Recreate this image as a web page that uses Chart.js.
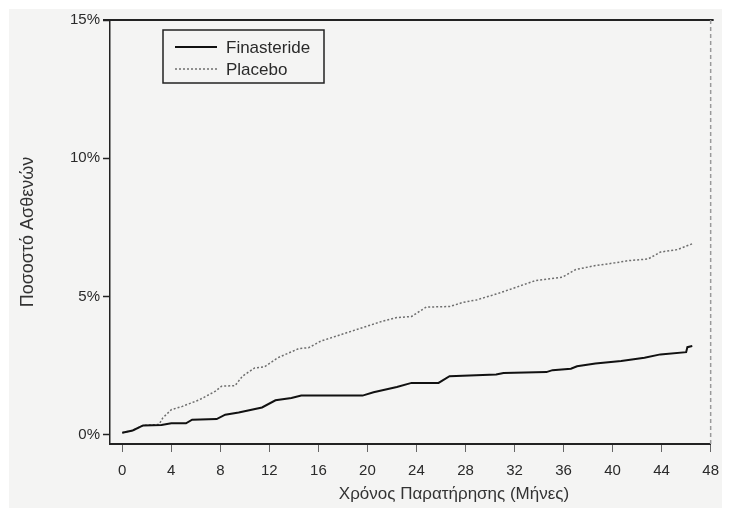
<!DOCTYPE html>
<html>
<head>
<meta charset="utf-8">
<script src="https://cdn.jsdelivr.net/npm/chart.js@4.4.1/dist/chart.umd.min.js"></script>
<style>
    html, body { margin: 0; padding: 0; background: #ffffff; }
    #paper { position: absolute; left: 9px; top: 9px; width: 713px; height: 499px; background: #f4f4f3; }
    #chart { position: absolute; left: 0; top: 0; }
</style>
</head>
<body>
<div id="paper"></div>
<canvas id="chart" width="729" height="515"></canvas>
<script>
// Finasteride (solid line) - months / percent of patients
const finMonths = [0, 0.85, 1.7, 3.2, 4.0, 5.2, 5.7, 7.7, 8.4, 9.5, 11.4, 12.5, 13.8, 14.6, 19.6, 20.5, 22.4, 23.6, 25.8, 26.7, 30.5, 31.1, 34.6, 35.1, 36.6, 37.1, 38.6, 40.7, 42.6, 43.9, 46.0, 46.1, 46.5];
const finPct = [0.08, 0.16, 0.34, 0.36, 0.42, 0.42, 0.55, 0.57, 0.73, 0.81, 0.99, 1.25, 1.33, 1.42, 1.42, 1.54, 1.73, 1.88, 1.88, 2.12, 2.18, 2.24, 2.27, 2.34, 2.39, 2.48, 2.58, 2.67, 2.79, 2.91, 2.99, 3.17, 3.21];

// Placebo (dotted line)
const placMonths = [0, 0.85, 1.7, 3.0, 3.3, 4.0, 4.9, 6.3, 7.6, 8.1, 9.2, 9.8, 10.8, 11.6, 12.7, 14.4, 15.2, 16.2, 19.2, 21.3, 22.4, 23.6, 24.3, 24.8, 26.7, 27.8, 28.9, 30.5, 32.1, 33.7, 35.9, 37.0, 38.6, 40.2, 41.3, 42.9, 43.9, 45.3, 46.5];
const placPct = [0.08, 0.16, 0.34, 0.38, 0.61, 0.91, 1.03, 1.27, 1.58, 1.76, 1.78, 2.12, 2.42, 2.46, 2.79, 3.12, 3.15, 3.39, 3.82, 4.12, 4.24, 4.28, 4.48, 4.62, 4.64, 4.79, 4.88, 5.09, 5.33, 5.58, 5.70, 5.98, 6.12, 6.22, 6.30, 6.36, 6.61, 6.70, 6.91];

const xTicks = [0, 4, 8, 12, 16, 20, 24, 28, 32, 36, 40, 44, 48];
const yTicks = [0, 5, 10, 15];

const seriesNames = ['Finasteride', 'Placebo'];
const xTitle = 'Χρόνος Παρατήρησης (Μήνες)';
const yTitle = 'Ποσοστό Ασθενών';

const FONT = "'Liberation Sans', Arial, sans-serif";
const INK = '#222';

const toPoints = (xs, ys) => xs.map((x, i) => ({ x: x, y: ys[i] }));

// top frame line, dashed right edge, boxed legend and the x title
const framePlugin = {
    id: 'frame',
    afterDraw(chart) {
        const ctx = chart.ctx;
        const a = chart.chartArea;
        ctx.save();

        ctx.strokeStyle = INK;
        ctx.lineWidth = 2;
        ctx.beginPath();
        ctx.moveTo(a.left - 7, a.top);
        ctx.lineTo(a.right + 3, a.top);
        ctx.stroke();

        ctx.strokeStyle = '#9a9a9a';
        ctx.lineWidth = 1.5;
        ctx.setLineDash([4, 3]);
        ctx.beginPath();
        ctx.moveTo(a.right, a.top);
        ctx.lineTo(a.right, a.bottom);
        ctx.stroke();
        ctx.setLineDash([]);

        // legend box
        const bx = 163, by = 30, bw = 161, bh = 53;
        ctx.strokeStyle = INK;
        ctx.lineWidth = 1.5;
        ctx.strokeRect(bx, by, bw, bh);
        ctx.font = '17px ' + FONT;
        ctx.textBaseline = 'middle';
        ctx.fillStyle = '#2a2a2a';
        chart.data.datasets.forEach((ds, i) => {
            const ly = by + 17 + i * 22;
            ctx.strokeStyle = ds.borderColor;
            ctx.lineWidth = ds.borderWidth;
            ctx.setLineDash(ds.borderDash || []);
            ctx.beginPath();
            ctx.moveTo(bx + 12, ly);
            ctx.lineTo(bx + 54, ly);
            ctx.stroke();
            ctx.setLineDash([]);
            ctx.fillText(ds.label, bx + 63, ly + 1);
        });

        // x axis title
        ctx.font = '17px ' + FONT;
        ctx.textAlign = 'center';
        ctx.textBaseline = 'middle';
        ctx.fillStyle = '#333';
        ctx.fillText(xTitle, 454, 494);
        ctx.restore();
    }
};

const ctx = document.getElementById('chart').getContext('2d');
new Chart(ctx, {
    type: 'line',
    data: {
        datasets: [
            {
                label: seriesNames[0],
                data: toPoints(finMonths, finPct),
                borderColor: '#111',
                borderWidth: 2,
                pointRadius: 0,
                tension: 0
            },
            {
                label: seriesNames[1],
                data: toPoints(placMonths, placPct),
                borderColor: '#6e6e6e',
                borderWidth: 1.5,
                borderDash: [2, 2],
                pointRadius: 0,
                tension: 0
            }
        ]
    },
    options: {
        responsive: false,
        devicePixelRatio: 1,
        animation: false,
        layout: { padding: { left: 0, top: 20, right: 14, bottom: 0 } },
        plugins: {
            legend: { display: false },
            tooltip: { enabled: false }
        },
        scales: {
            x: {
                type: 'linear',
                min: -1,
                max: 48,
                afterBuildTicks: (s) => { s.ticks = xTicks.map(v => ({ value: v })); },
                afterFit: (s) => { s.height = 71; },
                border: { display: true, color: INK, width: 2 },
                grid: { display: true, drawOnChartArea: false, drawTicks: true, tickLength: 8, tickColor: '#666', tickWidth: 1 },
                ticks: {
                    color: '#2a2a2a',
                    padding: 10,
                    maxRotation: 0,
                    autoSkip: false,
                    font: { family: FONT, size: 15 }
                }
            },
            y: {
                type: 'linear',
                min: -0.33,
                max: 15,
                afterBuildTicks: (s) => { s.ticks = yTicks.map(v => ({ value: v })); },
                afterFit: (s) => { s.width = 110; },
                border: { display: true, color: INK, width: 1.5 },
                grid: { display: true, drawOnChartArea: false, drawTicks: true, tickLength: 7, tickColor: INK, tickWidth: 1.5 },
                ticks: {
                    color: '#2a2a2a',
                    padding: 3,
                    font: { family: FONT, size: 15 },
                    callback: (v) => v + '%'
                },
                title: {
                    display: true,
                    text: yTitle,
                    color: '#333',
                    font: { family: FONT, size: 18 },
                    padding: { top: 17, bottom: 0 }
                }
            }
        }
    },
    plugins: [framePlugin]
});
</script>
</body>
</html>
